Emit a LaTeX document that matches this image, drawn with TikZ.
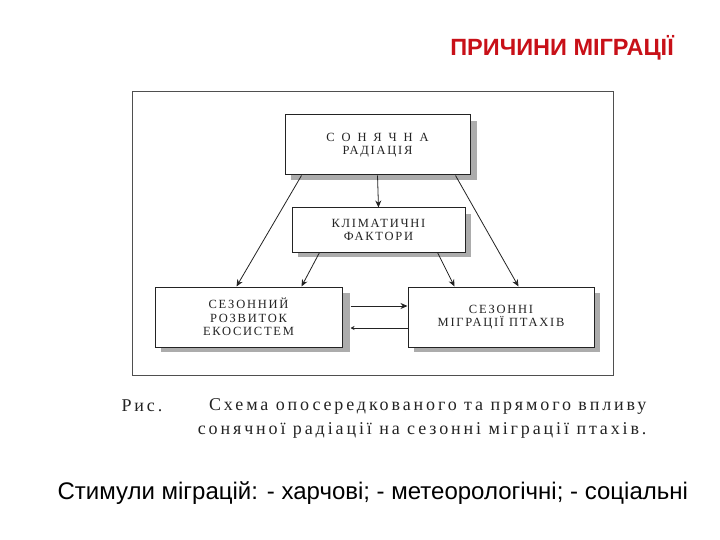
\documentclass[tikz,border=0pt]{standalone}
\usepackage{fontspec}
\setmainfont{Liberation Serif}
\newfontfamily\sansf{Liberation Sans}
\newfontfamily\boxf[LetterSpace=14]{Liberation Serif}
\newfontfamily\boxwide[LetterSpace=55]{Liberation Serif}
\newfontfamily\capf[LetterSpace=16]{Liberation Serif}
\usetikzlibrary{arrows.meta}
\definecolor{titlered}{RGB}{200,16,24}
\definecolor{ink}{RGB}{35,35,35}
\tikzset{
  box/.style={draw=ink, line width=1pt, fill=white, inner sep=0pt, align=center,
    font=\boxf\fontsize{12.5}{13.5}\selectfont, text=ink},
  conn/.style={draw=ink, line width=0.8pt, -{Stealth[length=7pt,width=6pt]}},
}
\begin{document}
\begin{tikzpicture}[x=1pt,y=-1pt]
\useasboundingbox (0,0) rectangle (720,540);
% title
\node[font=\sansf\bfseries\fontsize{23.5}{27}\selectfont, text=titlered] (title) at (562,48) {ПРИЧИНИ МІГРАЦІЇ};
% frame
\draw[ink!80, line width=0.8pt] (132,91) rectangle (613,375);
% shadows
\fill[gray!65] (291,121) rectangle (477,180);
\fill[gray!65] (298,214) rectangle (471,257);
\fill[gray!65] (161,293) rectangle (350,352);
\fill[gray!65] (414,293) rectangle (600,352);
% boxes
\node[box, minimum width=185pt, minimum height=60pt] (top) at (377.5,145)
  {{\boxwide СОНЯЧНА}\\РАДІАЦІЯ};
\node[box, minimum width=173pt, minimum height=44pt] (mid) at (378.5,230)
  {КЛІМАТИЧНІ\\ФАКТОРИ};
\node[box, minimum width=187pt, minimum height=60pt] (left) at (248.5,317)
  {СЕЗОННИЙ\\РОЗВИТОК\\ЕКОСИСТЕМ};
\node[box, minimum width=186pt, minimum height=60pt] (right) at (501,317)
  {СЕЗОННІ\\МІГРАЦІЇ ПТАХІВ};
% connectors
\draw[conn] (top.south) -- (mid.north);
\draw[conn] ([xshift=17pt]top.south west) -- ([xshift=82pt]left.north west);
\draw[conn] ([xshift=-15pt]top.south east) -- ([xshift=-76pt]right.north east);
\draw[conn] ([xshift=28pt]mid.south west) -- ([xshift=147pt]left.north west);
\draw[conn] ([xshift=-28pt]mid.south east) -- ([xshift=47pt]right.north west);
\draw[conn] ([xshift=8pt,yshift=11pt]left.east) -- ([yshift=11pt]right.west);
\draw[conn, -{Stealth[length=4pt,width=4pt]}] ([yshift=-11pt]right.west) -- ([xshift=8pt,yshift=-11pt]left.east);
% caption
\node[font=\capf\fontsize{18}{21}\selectfont, text=ink, anchor=west] (ris) at (118,406) {Рис.};
\node[font=\capf\fontsize{18}{21}\selectfont, text=ink, anchor=east] (cap1) at (650,406) {Схема опосередкованого та прямого впливу};
\node[font=\capf\fontsize{18}{21}\selectfont, text=ink, anchor=east] (cap2) at (650,430) {сонячної радіації на сезонні міграції птахів.};
% bottom
\node[font=\sansf\fontsize{24}{28}\selectfont, anchor=west] (stim) at (54,493) {Стимули міграцій: - харчові; - метеорологічні; - соціальні};
\end{tikzpicture}
\end{document}
